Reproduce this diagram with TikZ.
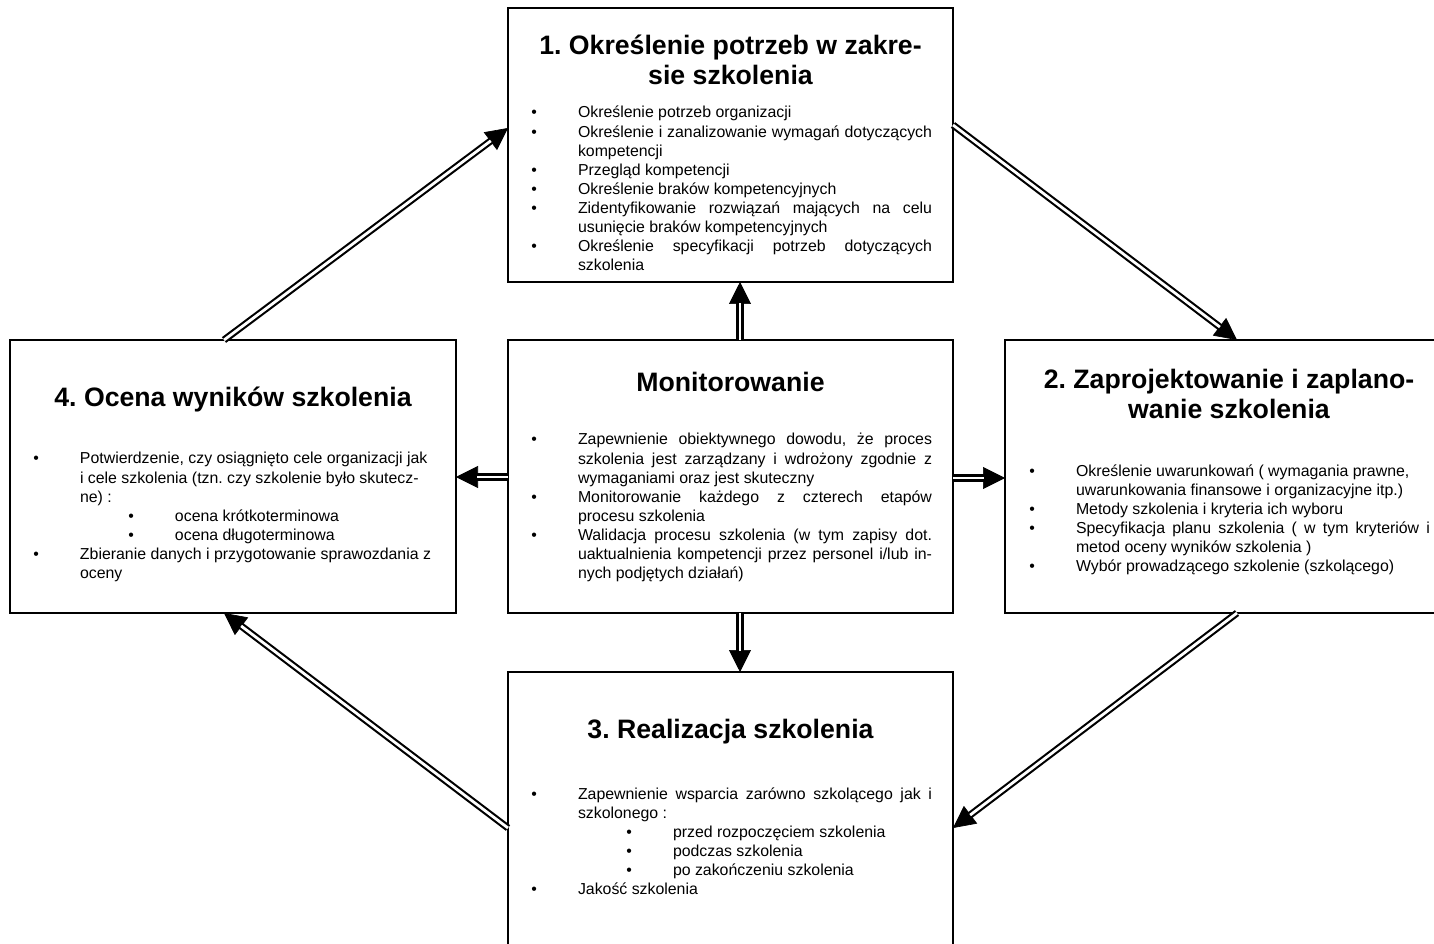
\documentclass[tikz,border=0pt]{standalone}
\usepackage{fontspec}
\setmainfont{Liberation Sans}
\usetikzlibrary{calc,arrows.meta}
\frenchspacing
\newlength\TW \setlength\TW{265.5pt}
\newcommand\bodyfont{\fontsize{11.9pt}{14.3pt}\selectfont}
\newcommand\titlefont{\fontsize{20pt}{22pt}\selectfont\bfseries}
\newcommand\Bu{\leavevmode\llap{\textbullet\hspace{30.75pt}}}
\newcommand\SBu{\leavevmode\hspace*{71.25pt}\Bu}
\newcommand\J[1]{\makebox[\TW][s]{#1}}
\newcommand\Rl[1]{\mbox{#1}}
\newcommand\dblarrow[2]{\draw[head] ($(#2)!22.5pt!(#1)$) -- (#2); \draw[shaft] (#1) -- (#2);}
\begin{document}
\begin{tikzpicture}[x=0.75pt,y=-0.75pt,
  box/.style={draw, line width=1.7pt, rectangle, inner sep=0pt, outer sep=0pt, anchor=north west},
  shaft/.style={double=white, double distance=2.1pt, line width=1.6pt, shorten >=16.1pt},
  head/.style={-{Triangle[length=16.5pt,width=16.5pt]}, line width=0.5pt},
  txt/.style={anchor=base west, inner sep=0pt, outer sep=0pt},
  ttl/.style={anchor=base, inner sep=0pt, outer sep=0pt}]
\useasboundingbox (0,0) rectangle (1434,944);
\clip (0,0) rectangle (1434,944);
\fill[white] (0,0) rectangle (1434,944);

% boxes
\node[box, minimum width=333.75pt, minimum height=205.5pt] (b1) at (508,8) {};
\node[box, minimum width=334.5pt, minimum height=204.75pt] (b4) at (10,340) {};
\node[box, minimum width=333.75pt, minimum height=204.75pt] (bm) at (508,340) {};
\node[box, minimum width=336pt, minimum height=204.75pt] (b2) at (1005,340) {};
\node[box, minimum width=333.75pt, minimum height=225pt] (b3) at (508,672) {};

% titles
\node[ttl] (h1) at ($(b1.north)+(0,47)$) {\parbox[t]{320pt}{\centering\titlefont 1. Określenie potrzeb w zakre-\\sie szkolenia}};
\node[ttl] (h4) at ($(b4.north)+(0,67)$) {\titlefont 4. Ocena wyników szkolenia};
\node[ttl] (hm) at ($(bm.north)+(0,52)$) {\titlefont Monitorowanie};
\node[ttl] (h2) at ($(b2.north)+(0,49)$) {\parbox[t]{320pt}{\centering\titlefont 2. Zaprojektowanie i zaplano-\\wanie szkolenia}};
\node[ttl] (h3) at ($(b3.north)+(0,66)$) {\titlefont 3. Realizacja szkolenia};

% bodies
\node[txt] (t1) at ($(b1.north west)+(70,110)$) {\parbox[t]{\TW}{\bodyfont\raggedright
\Rl{\Bu Określenie potrzeb organizacji}\\
\Bu\J{Określenie i zanalizowanie wymagań dotyczących}\\
\Rl{kompetencji}\\
\Rl{\Bu Przegląd kompetencji}\\
\Rl{\Bu Określenie braków kompetencyjnych}\\
\Bu\J{Zidentyfikowanie rozwiązań mających na celu}\\
\Rl{usunięcie braków kompetencyjnych}\\
\Bu\J{Określenie specyfikacji potrzeb dotyczących}\\
\Rl{szkolenia}}};

\node[txt] (t4) at ($(b4.north west)+(70,124)$) {\parbox[t]{\TW}{\bodyfont\raggedright
\Rl{\Bu Potwierdzenie, czy osiągnięto cele organizacji jak}\\
\Rl{i cele szkolenia (tzn. czy szkolenie było skutecz-}\\
\Rl{ne) :}\\
\Rl{\SBu ocena krótkoterminowa}\\
\Rl{\SBu ocena długoterminowa}\\
\Rl{\Bu Zbieranie danych i przygotowanie sprawozdania z}\\
\Rl{oceny}}};

\node[txt] (tm) at ($(bm.north west)+(70,105)$) {\parbox[t]{\TW}{\bodyfont\raggedright
\Bu\J{Zapewnienie obiektywnego dowodu, że proces}\\
\J{szkolenia jest zarządzany i wdrożony zgodnie z}\\
\Rl{wymaganiami oraz jest skuteczny}\\
\Bu\J{Monitorowanie każdego z czterech etapów}\\
\Rl{procesu szkolenia}\\
\Bu\J{Walidacja procesu szkolenia (w tym zapisy dot.}\\
\J{uaktualnienia kompetencji przez personel i/lub in-}\\
\Rl{nych podjętych działań)}}};

\node[txt] (t2) at ($(b2.north west)+(71,136)$) {\parbox[t]{\TW}{\bodyfont\raggedright
\Rl{\Bu Określenie uwarunkowań ( wymagania prawne,}\\
\Rl{uwarunkowania finansowe i organizacyjne itp.)}\\
\Rl{\Bu Metody szkolenia i kryteria ich wyboru}\\
\Bu\J{Specyfikacja planu szkolenia ( w tym kryteriów i}\\
\Rl{metod oceny wyników szkolenia )}\\
\Rl{\Bu Wybór prowadzącego szkolenie (szkolącego)}}};

\node[txt] (t3) at ($(b3.north west)+(70,127)$) {\parbox[t]{\TW}{\bodyfont\raggedright
\Bu\J{Zapewnienie wsparcia zarówno szkolącego jak i}\\
\Rl{szkolonego :}\\
\Rl{\SBu przed rozpoczęciem szkolenia}\\
\Rl{\SBu podczas szkolenia}\\
\Rl{\SBu po zakończeniu szkolenia}\\
\Rl{\Bu Jakość szkolenia}}};

% connector end points
\coordinate (a41) at ($(b4.north west)+(214,0)$);
\coordinate (e41) at ($(b1.north west)+(0,120)$);
\coordinate (a12) at ($(b1.north east)+(0,117)$);
\coordinate (e12) at ($(b2.north west)+(232,0)$);
\coordinate (a23) at ($(b2.south west)+(232,0)$);
\coordinate (e23) at ($(b3.north east)+(0,156)$);
\coordinate (a34) at ($(b3.north west)+(0,156)$);
\coordinate (e34) at ($(b4.south west)+(214,0)$);
\coordinate (amu) at ($(bm.north west)+(232,0)$);
\coordinate (emu) at ($(b1.south west)+(232,0)$);
\coordinate (amd) at ($(bm.south west)+(232,0)$);
\coordinate (emd) at ($(b3.north west)+(232,0)$);
\coordinate (aml) at ($(bm.north west)+(0,137)$);
\coordinate (eml) at ($(b4.north east)+(0,137)$);
\coordinate (amr) at ($(bm.north east)+(0,138)$);
\coordinate (emr) at ($(b2.north west)+(0,138)$);

\dblarrow{a41}{e41}
\dblarrow{a12}{e12}
\dblarrow{a23}{e23}
\dblarrow{a34}{e34}
\dblarrow{amu}{emu}
\dblarrow{amd}{emd}
\dblarrow{aml}{eml}
\dblarrow{amr}{emr}
\end{tikzpicture}
\end{document}
